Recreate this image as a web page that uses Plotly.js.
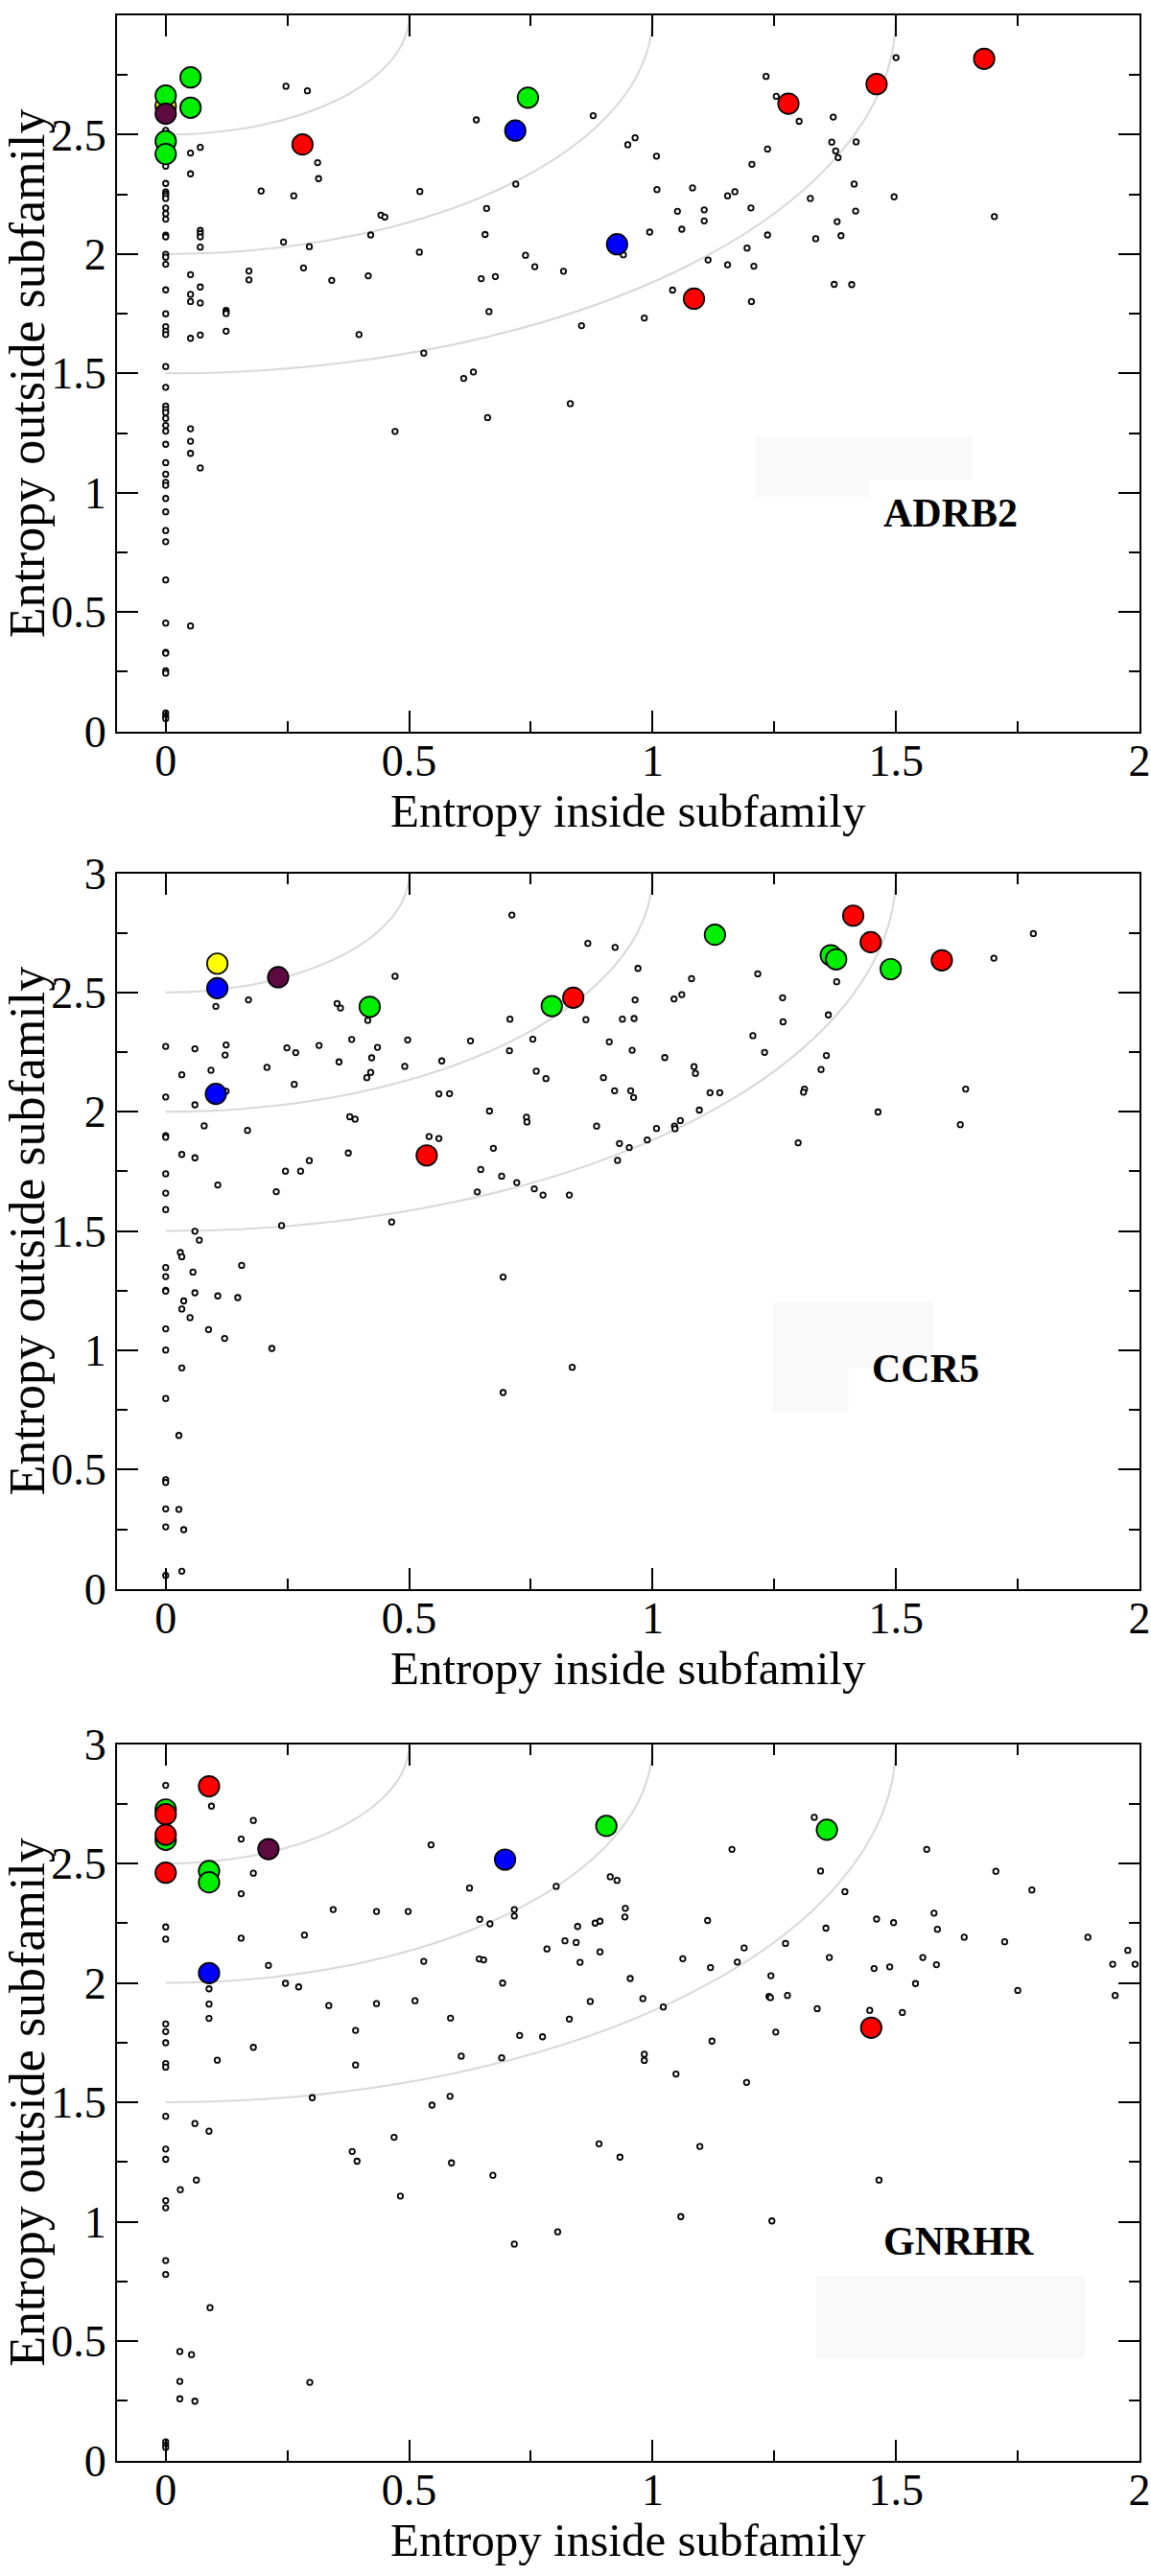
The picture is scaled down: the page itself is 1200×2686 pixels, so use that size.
<!DOCTYPE html>
<html>
<head>
<meta charset="utf-8">
<script src="https://cdn.plot.ly/plotly-3.0.1.min.js"></script>
<style>html,body{margin:0;padding:0;background:#fff;}#chart{width:1200px;height:2686px;}</style>
</head>
<body>
<div id="chart"></div>
<script>
// ---------- DATA (x = entropy inside subfamily, y = entropy outside subfamily) ----------
const panelNames = ["ADRB2", "CCR5", "GNRHR"];

// ADRB2
const adrb2Other = [
[0,2.518],[0,2.368],[0,2.296],[0,2.260],[0,2.252],[0,2.244],[0,2.233],[0,2.193],[0,2.169],[0,2.146],
[0,2.079],[0,2.072],[0,1.999],[0,1.987],[0,1.957],[0,1.850],[0,1.750],[0,1.696],[0,1.677],[0,1.663],
[0,1.529],[0,1.442],[0,1.363],[0,1.349],[0,1.336],[0,1.312],[0,1.282],[0,1.258],[0,1.203],[0,1.126],
[0,1.078],[0,1.044],[0,1.031],[0,0.976],[0,0.920],[0,0.842],[0,0.795],[0,0.635],[0,0.454],[0,0.332],
[0,0.328],[0,0.254],[0,0.244],[0,0.078],[0,0.064],[0,0.054],
[0.051,2.423],[0.051,2.336],[0.051,1.914],[0.051,1.831],[0.051,1.801],[0.051,1.647],[0.051,1.268],[0.051,1.216],[0.051,1.165],[0.051,0.442],
[0.071,2.447],[0.071,2.099],[0.071,2.086],[0.071,2.072],[0.071,2.029],[0.071,1.862],[0.071,1.795],[0.071,1.661],[0.071,1.104],
[0.124,1.764],[0.124,1.758],[0.124,1.751],[0.124,1.677],
[0.171,1.929],[0.171,1.892],[0.196,2.264],[0.247,2.703],[0.291,2.684],[0.263,2.244],[0.312,2.383],[0.314,2.316],[0.242,2.050],[0.295,2.031],
[0.283,1.942],[0.341,1.890],[0.397,1.663],[0.416,1.909],[0.421,2.080],[0.442,2.163],[0.450,2.155],[0.522,2.262],[0.521,2.008],[0.530,1.585],
[0.471,1.257],[0.638,2.562],[0.659,2.191],[0.656,2.082],[0.719,2.293],[0.739,1.995],[0.758,1.947],[0.648,1.897],[0.677,1.906],[0.664,1.759],
[0.817,1.928],[0.612,1.479],[0.632,1.506],[0.831,1.373],[0.661,1.315],
[0.878,2.580],[0.949,2.458],[0.964,2.487],[1.008,2.410],[1.009,2.270],[1.082,2.277],[1.154,2.244],[1.169,2.261],[1.051,2.179],[1.106,2.185],
[1.106,2.139],[1.060,2.104],[0.994,2.092],[0.940,1.997],[1.114,1.975],[1.154,1.955],[1.208,1.949],[1.194,2.025],[1.236,2.080],[1.202,2.193],
[1.204,2.376],[1.236,2.440],[1.233,2.744],[1.254,2.661],[1.301,2.556],[1.371,2.574],[1.368,2.469],[1.376,2.432],[1.381,2.404],[1.418,2.470],
[1.414,2.293],[1.324,2.233],[1.417,2.180],[1.379,2.136],[1.387,2.077],[1.335,2.064],[1.496,2.240],[1.500,2.823],[1.702,2.157],[1.373,1.873],
[1.409,1.872],[1.203,1.801],[1.041,1.849],[0.983,1.732],[0.854,1.700]
];
const adrb2Yellow = [[0,2.62]];
const adrb2Green  = [[0,2.664],[0.051,2.740],[0.051,2.613],[0,2.473],[0,2.419],[0.744,2.655]];
const adrb2Blue   = [[0.718,2.517],[0.927,2.041]];
const adrb2Purple = [[0,2.588]];
const adrb2Red    = [[0.281,2.459],[1.085,1.813],[1.279,2.630],[1.460,2.712],[1.681,2.818]];

// CCR5
const ccr5Other = [
[0.711,2.825],[0.103,2.442],[0.170,2.469],[0.352,2.454],[0.359,2.435],[0.471,2.568],[0.415,2.383],[0.707,2.388],[0,2.274],[0.060,2.264],
[0.124,2.280],[0.122,2.238],[0.033,2.155],[0.093,2.174],[0,2.062],[0.060,2.029],[0.124,2.086],[0.079,1.941],[0.168,1.922],[0,1.900],
[0,1.893],[0.033,1.821],[0.060,1.807],[0,1.740],[0,1.659],[0,1.590],[0.107,1.693],[0.060,1.499],[0.238,1.523],[0.227,1.665],
[0.246,1.751],[0.277,1.751],[0.295,1.795],[0.208,2.186],[0.249,2.268],[0.267,2.248],[0.264,2.115],[0.315,2.278],[0.356,2.209],[0.382,2.303],
[0.435,2.270],[0.423,2.226],[0.421,2.165],[0.413,2.143],[0.497,2.301],[0.491,2.190],[0.567,2.213],[0.561,2.075],[0.583,2.076],[0.378,1.979],
[0.389,1.969],[0.375,1.827],[0.464,1.538],[0.541,1.896],[0.561,1.888],[0.626,2.297],[0.706,2.256],[0.754,2.304],[0.761,2.170],[0.781,2.139],
[0.665,2.003],[0.741,1.977],[0.742,1.957],[0.673,1.847],[0.647,1.758],[0.690,1.730],[0.721,1.703],[0.640,1.664],[0.757,1.677],[0.775,1.651],
[0.829,1.651],
[0.867,2.706],[0.923,2.689],[0.970,2.601],[1.080,2.558],[1.044,2.473],[1.060,2.491],[0.964,2.469],[0.863,2.386],[0.938,2.388],[0.962,2.391],
[0.911,2.293],[0.958,2.258],[1.025,2.227],[1.085,2.189],[1.088,2.161],[0.899,2.143],[0.922,2.088],[0.955,2.088],[0.961,2.060],[1.118,2.080],
[1.138,2.080],[1.096,2.007],[1.057,1.963],[1.045,1.940],[1.046,1.929],[1.008,1.930],[0.989,1.882],[0.885,1.940],[0.932,1.867],[0.952,1.850],
[0.928,1.796],[1.216,2.578],[1.267,2.478],[1.268,2.377],[1.206,2.319],[1.230,2.249],[1.361,2.406],[1.378,2.545],[1.357,2.236],[1.346,2.177],
[1.312,2.095],[1.310,2.082],[1.299,1.870],[1.463,1.999],[1.643,2.095],[1.632,1.946],[1.701,2.644],[1.782,2.747],
[0.069,1.462],[0.030,1.410],[0.033,1.392],[0,1.347],[0,1.309],[0.056,1.328],[0.156,1.356],[0,1.252],[0,1.248],[0.060,1.241],
[0.107,1.228],[0.148,1.221],[0.037,1.207],[0.033,1.173],[0.050,1.137],[0,1.090],[0.088,1.087],[0.121,1.050],[0,1.001],[0.218,1.008],
[0.033,0.926],[0,0.798],[0.027,0.643],[0,0.458],[0,0.446],[0,0.335],[0.027,0.333],[0,0.260],[0.037,0.248],[0.033,0.074],
[0,0.056],[0.693,1.307],[0.693,0.823],[0.835,0.929]
];
const ccr5Yellow = [[0.106,2.621]];
const ccr5Green  = [[0.419,2.440],[0.793,2.443],[1.128,2.742],[1.366,2.656],[1.377,2.639],[1.489,2.598]];
const ccr5Blue   = [[0.106,2.518],[0.103,2.075]];
const ccr5Purple = [[0.231,2.564]];
const ccr5Red    = [[0.536,1.817],[0.837,2.478],[1.412,2.822],[1.448,2.711],[1.594,2.635]];

// GNRHR
const gnrhrOther = [
[0,2.827],[0.094,2.740],[0.180,2.680],[0.155,2.602],[0.180,2.459],[0.155,2.373],[0.545,2.578],[0.624,2.397],[0.802,2.404],[0.344,2.307],
[0.433,2.299],[0.498,2.299],[0.645,2.266],[0.666,2.247],[0.716,2.307],[0.716,2.280],[0,2.234],[0,2.183],[0.155,2.187],[0.285,2.200],
[0.783,2.142],[0.820,2.176],[0.211,2.073],[0.530,2.090],[0.644,2.100],[0.653,2.096],[0.692,1.999],[0.246,1.998],[0.273,1.983],[0.089,1.975],
[0.089,1.911],[0.089,1.851],[0.335,1.905],[0.433,1.913],[0.512,1.925],[0.585,1.852],[0.829,1.848],[0.727,1.780],[0.774,1.774],[0.390,1.801],
[0,1.828],[0,1.796],[0,1.749],[0,1.662],[0,1.647],[0.180,1.730],[0.106,1.676],[0.390,1.656],[0.607,1.693],[0.690,1.686],
[0.301,1.519],[0.547,1.488],[0.584,1.525],[0,1.441],[0.060,1.411],[0.089,1.379],[0.469,1.353],[0,1.304],[0.383,1.294],
[1.332,2.693],[1.163,2.559],[1.563,2.559],[1.705,2.467],[1.779,2.389],[1.345,2.468],[1.395,2.382],[0.913,2.444],[0.927,2.429],[0.944,2.312],
[0.943,2.276],[0.882,2.250],[0.892,2.258],[0.846,2.236],[0.843,2.169],[0.892,2.130],[0.851,2.086],[0.954,2.018],[0.872,1.922],[0.980,1.934],
[1.022,1.899],[1.113,2.261],[1.062,2.101],[1.119,2.064],[1.188,2.146],[1.174,2.087],[1.273,2.165],[1.243,2.030],[1.239,1.943],[1.242,1.938],
[1.277,1.947],[1.338,1.892],[1.253,1.794],[1.122,1.756],[0.983,1.701],[0.983,1.675],[1.048,1.618],[1.193,1.583],[1.356,2.229],[1.363,2.106],
[1.460,2.267],[1.495,2.252],[1.578,2.292],[1.585,2.224],[1.640,2.191],[1.723,2.172],[1.894,2.191],[1.976,2.136],[1.945,2.078],[1.991,2.078],
[1.950,1.947],[1.750,1.968],[1.455,2.060],[1.487,2.067],[1.555,2.106],[1.583,2.076],[1.540,1.997],[1.446,1.885],[1.513,1.876],[0.890,1.326],
[1.097,1.315],
[0,1.261],[0.393,1.253],[0.587,1.246],[0.672,1.194],[0.063,1.174],[0.030,1.134],[0,1.088],[0,1.058],[0.482,1.107],[0.805,0.957],
[0.716,0.906],[0,0.837],[0,0.779],[0.091,0.640],[0.029,0.456],[0.053,0.443],[0.029,0.331],[0.296,0.327],[0.029,0.258],[0.060,0.248],
[0,0.078],[0,0.064],[0,0.054],[0.933,1.270],[1.465,1.174],[1.058,1.021],[1.245,1.003]
];
const gnrhrYellow = [];
const gnrhrGreen  = [[0,2.726],[0,2.599],[0.089,2.468],[0.089,2.421],[0.905,2.657],[1.358,2.641]];
const gnrhrBlue   = [[0.697,2.516],[0.089,2.041]];
const gnrhrPurple = [[0.211,2.560]];
const gnrhrRed    = [[0.089,2.823],[0,2.706],[0,2.620],[0,2.461],[1.449,1.812]];

const guideRadii = [0.5, 1, 1.5];   // reference arcs around (0, 3)
const xTitle = "Entropy inside subfamily";
const yTitle = "Entropy outside subfamily";

// ---------- LAYOUT ----------
const W = 1200, H = 2686;
const plotLeft = 122, plotRight = 1188;
const panelPix = [[16, 762.7], [910.5, 1656.7], [1818.5, 2565.5]]; // top, bottom in px
const xTitleOffset = 83;   // px below the x axis line (centre of title)
const FONT = "Liberation Serif, Times New Roman, serif";

const groups = [
  {other: adrb2Other, yellow: adrb2Yellow, green: adrb2Green, blue: adrb2Blue, purple: adrb2Purple, red: adrb2Red},
  {other: ccr5Other, yellow: ccr5Yellow, green: ccr5Green, blue: ccr5Blue, purple: ccr5Purple, red: ccr5Red},
  {other: gnrhrOther, yellow: gnrhrYellow, green: gnrhrGreen, blue: gnrhrBlue, purple: gnrhrPurple, red: gnrhrRed}
];
const colorMap = {yellow: "#ffff00", green: "#00ee00", blue: "#0000ff", purple: "#5c0a40", red: "#ff0000"};
const labelPos = [[1.612, 0.913], [1.560, 0.925], [1.628, 0.919]];
const boxes = [
  [[1.212, 1.052, 1.656, 1.232], [1.212, 0.983, 1.444, 1.052]],
  [[1.246, 0.926, 1.577, 1.201], [1.246, 0.740, 1.402, 0.926]],
  [[1.336, 0.428, 1.888, 0.773]]
];

const traces = [], shapes = [], annotations = [];
const layout = {
  width: W, height: H, margin: {l: 0, r: 0, t: 0, b: 0},
  paper_bgcolor: "#fff", plot_bgcolor: "#fff", showlegend: false,
  font: {family: FONT, color: "#000"}
};

groups.forEach((g, i) => {
  const n = i === 0 ? "" : String(i + 1);
  const xa = "x" + n, ya = "y" + n;
  const [top, bot] = panelPix[i];
  const tickStyle = {
    ticks: "inside", ticklen: 22, tickwidth: 2, tickcolor: "#000",
    showline: true, linecolor: "#000", linewidth: 2, mirror: "ticks",
    showgrid: false, zeroline: false, fixedrange: true,
    tickfont: {family: FONT, size: 46, color: "#000"},
    minor: {ticks: "inside", ticklen: 11, tickwidth: 2, tickcolor: "#000", showgrid: false, dtick: 0.25}
  };
  layout["xaxis" + n] = Object.assign({}, tickStyle, {
    domain: [plotLeft / W, plotRight / W], range: [-0.1, 2], anchor: ya,
    tick0: 0, dtick: 0.5, ticklabelstandoff: -11
  });
  layout["yaxis" + n] = Object.assign({}, tickStyle, {
    domain: [(H - bot) / H, (H - top) / H], range: [0, 3], anchor: xa,
    tick0: 0, dtick: 0.5,
    title: {text: yTitle, font: {family: FONT, size: 52, color: "#000"}, standoff: 7}
  });
  // x-axis title placed as a paper annotation centred under the plot
  annotations.push({
    xref: "paper", yref: "paper", x: (plotLeft + plotRight) / 2 / W, y: (H - (bot + xTitleOffset)) / H,
    xanchor: "center", yanchor: "middle", showarrow: false, text: xTitle,
    font: {family: FONT, size: 49, color: "#000"}
  });

  // background points
  traces.push({
    type: "scatter", mode: "markers", xaxis: xa, yaxis: ya, hoverinfo: "skip",
    x: g.other.map(p => p[0]), y: g.other.map(p => p[1]),
    marker: {size: 5.5, color: "#fff", line: {color: "#000", width: 1.8}}
  });
  ["yellow", "green", "blue", "purple", "red"].forEach(c => {
    if (!g[c].length) return;
    traces.push({
      type: "scatter", mode: "markers", xaxis: xa, yaxis: ya, name: c,
      x: g[c].map(p => p[0]), y: g[c].map(p => p[1]),
      marker: {size: 21.5, color: colorMap[c], line: {color: "#000", width: 1.7}}
    });
  });

  // guide arcs (quarter circles centred on (0,3)) as bezier paths
  const k = 0.5523;
  guideRadii.forEach(r => {
    shapes.push({
      type: "path", xref: xa, yref: ya, layer: "below",
      path: `M 0,${3 - r} C ${k * r},${3 - r} ${r},${3 - k * r} ${r},3`,
      line: {color: "#d8d8d8", width: 2}
    });
  });
  boxes[i].forEach(b => {
    shapes.push({
      type: "rect", xref: xa, yref: ya, layer: "below",
      x0: b[0], y0: b[1], x1: b[2], y1: b[3],
      fillcolor: "#f9f9f9", line: {width: 0}
    });
  });
  annotations.push({
    xref: xa, yref: ya, x: labelPos[i][0], y: labelPos[i][1],
    text: "<b>" + panelNames[i] + "</b>", showarrow: false,
    xanchor: "center", yanchor: "middle",
    font: {family: FONT, size: 42, color: "#000"}
  });
});
layout.shapes = shapes;
layout.annotations = annotations;

Plotly.newPlot("chart", traces, layout, {staticPlot: true, displayModeBar: false});
</script>
</body>
</html>
